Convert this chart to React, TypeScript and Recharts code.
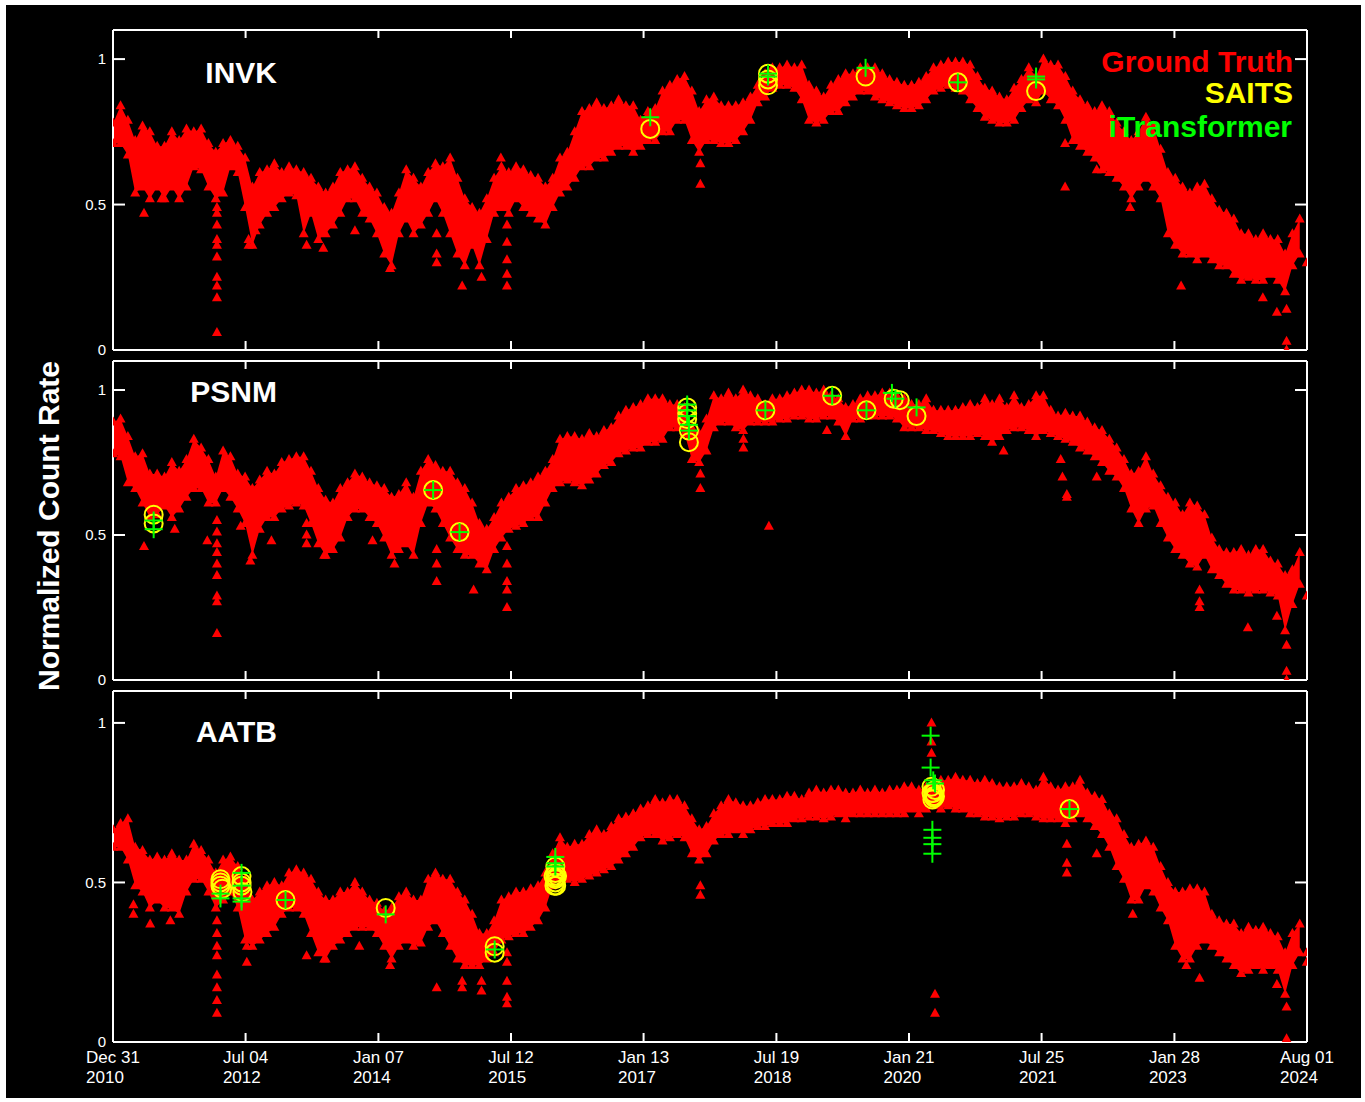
import React from 'react';
import { ComposedChart, Area, Scatter, XAxis, YAxis } from 'recharts';

// x ticks (decimal years) and their two-line labels
const tickYears = [2010.9973, 2012.5058, 2014.0171, 2015.5257, 2017.0342, 2018.5455, 2020.0541, 2021.5626, 2023.0739, 2024.5825];
const tickDates = ['Dec 31', 'Jul 04', 'Jan 07', 'Jul 12', 'Jan 13', 'Jul 19', 'Jan 21', 'Jul 25', 'Jan 28', 'Aug 01'];
const tickYearText = ['2010', '2012', '2014', '2015', '2017', '2018', '2020', '2021', '2023', '2024'];
const yTicks = [0, 0.5, 1];

// monthly sample grid, Jan 2011 .. Jul 2024
const sampleYears = Array.from({ length: 163 }, (_, i) => 2011 + i / 12);

// INVK: upper / lower edge of the ground truth band (one row per year)
const invkHigh = [
  0.78, 0.84, 0.79, 0.72, 0.77, 0.75, 0.70, 0.70, 0.75, 0.72, 0.76, 0.75,
  0.76, 0.71, 0.68, 0.71, 0.72, 0.70, 0.66, 0.56, 0.61, 0.62, 0.64, 0.61,
  0.63, 0.62, 0.61, 0.59, 0.56, 0.54, 0.56, 0.61, 0.62, 0.63, 0.59, 0.56,
  0.54, 0.49, 0.47, 0.54, 0.62, 0.59, 0.56, 0.61, 0.64, 0.63, 0.66, 0.59,
  0.52, 0.49, 0.47, 0.52, 0.59, 0.63, 0.61, 0.63, 0.62, 0.60, 0.59, 0.56,
  0.59, 0.66, 0.68, 0.75, 0.82, 0.83, 0.85, 0.83, 0.84, 0.86, 0.84, 0.84,
  0.79, 0.82, 0.83, 0.89, 0.91, 0.93, 0.94, 0.89, 0.82, 0.86, 0.87, 0.84,
  0.84, 0.84, 0.85, 0.87, 0.91, 0.95, 0.97, 0.97, 0.98, 0.97, 0.98, 0.91,
  0.89, 0.87, 0.91, 0.93, 0.95, 0.95, 0.97, 0.97, 0.97, 0.95, 0.93, 0.92,
  0.91, 0.91, 0.92, 0.94, 0.97, 0.98, 0.99, 0.99, 0.99, 0.98, 0.94, 0.90,
  0.89, 0.87, 0.86, 0.90, 0.93, 0.97, 0.94, 1.00, 0.98, 0.98, 0.94, 0.89,
  0.86, 0.84, 0.82, 0.84, 0.82, 0.78, 0.75, 0.72, 0.75, 0.80, 0.77, 0.69,
  0.61, 0.59, 0.56, 0.54, 0.56, 0.57, 0.52, 0.48, 0.47, 0.45, 0.40, 0.40,
  0.38, 0.40, 0.38, 0.38, 0.33, 0.40, 0.45,
];
const invkLow = [
  0.71, 0.71, 0.67, 0.54, 0.56, 0.52, 0.56, 0.52, 0.56, 0.52, 0.56, 0.63,
  0.62, 0.56, 0.52, 0.54, 0.63, 0.61, 0.49, 0.36, 0.43, 0.47, 0.49, 0.52,
  0.54, 0.53, 0.40, 0.47, 0.38, 0.40, 0.43, 0.47, 0.52, 0.52, 0.47, 0.45,
  0.40, 0.33, 0.29, 0.40, 0.45, 0.40, 0.43, 0.47, 0.52, 0.47, 0.40, 0.33,
  0.29, 0.36, 0.29, 0.38, 0.47, 0.49, 0.47, 0.52, 0.49, 0.47, 0.45, 0.43,
  0.49, 0.54, 0.56, 0.59, 0.63, 0.63, 0.66, 0.66, 0.68, 0.70, 0.70, 0.68,
  0.70, 0.72, 0.72, 0.75, 0.75, 0.79, 0.79, 0.72, 0.68, 0.72, 0.72, 0.71,
  0.71, 0.72, 0.75, 0.79, 0.85, 0.87, 0.90, 0.91, 0.91, 0.90, 0.86, 0.79,
  0.78, 0.79, 0.82, 0.82, 0.85, 0.87, 0.89, 0.89, 0.87, 0.86, 0.85, 0.84,
  0.83, 0.83, 0.84, 0.86, 0.89, 0.90, 0.91, 0.90, 0.89, 0.86, 0.83, 0.80,
  0.79, 0.78, 0.78, 0.79, 0.83, 0.86, 0.85, 0.89, 0.86, 0.84, 0.79, 0.72,
  0.70, 0.68, 0.66, 0.62, 0.61, 0.59, 0.56, 0.52, 0.56, 0.59, 0.56, 0.52,
  0.40, 0.36, 0.33, 0.33, 0.31, 0.33, 0.31, 0.29, 0.29, 0.26, 0.24, 0.25,
  0.24, 0.24, 0.26, 0.24, 0.20, 0.29, 0.33,
];
const invkSpikes = [
  [2011.35, 0.47], [2011.55, 0.52], [2012.18, 0.49], [2012.18, 0.47], [2012.18, 0.43], [2012.18, 0.38],
  [2012.18, 0.36], [2012.18, 0.32], [2012.18, 0.25], [2012.18, 0.22], [2012.18, 0.18], [2012.18, 0.06],
  [2012.54, 0.38], [2012.54, 0.36], [2012.62, 0.41], [2013.2, 0.36], [2013.39, 0.35], [2013.75, 0.41],
  [2014.15, 0.28], [2014.68, 0.4], [2014.68, 0.33], [2014.68, 0.3], [2014.97, 0.22], [2015.19, 0.25],
  [2015.41, 0.66], [2015.48, 0.43], [2015.48, 0.37], [2015.48, 0.31], [2015.48, 0.26], [2015.48, 0.22],
  [2017.68, 0.64], [2017.68, 0.57], [2021.83, 0.71], [2021.83, 0.56], [2022.19, 0.62], [2022.57, 0.49],
  [2023.15, 0.22], [2024.08, 0.18], [2024.24, 0.13], [2024.35, 0.14], [2024.35, 0.03], [2024.35, 0.0],
  [2024.58, 0.3],
];
const invkSaits = [[2017.11, 0.76], [2018.45, 0.95], [2018.45, 0.93], [2018.45, 0.91], [2019.56, 0.94], [2020.61, 0.92], [2021.5, 0.89]];
const invkITrans = [[2017.11, 0.8], [2018.45, 0.94], [2018.45, 0.95], [2019.56, 0.97], [2020.61, 0.92], [2021.5, 0.93], [2021.5, 0.94]];

// PSNM
const psnmHigh = [
  0.89, 0.90, 0.84, 0.77, 0.78, 0.71, 0.71, 0.70, 0.75, 0.72, 0.76, 0.83,
  0.80, 0.76, 0.70, 0.79, 0.77, 0.71, 0.70, 0.66, 0.69, 0.72, 0.71, 0.75,
  0.76, 0.77, 0.77, 0.72, 0.66, 0.62, 0.61, 0.66, 0.68, 0.71, 0.70, 0.68,
  0.67, 0.66, 0.63, 0.64, 0.68, 0.63, 0.72, 0.76, 0.74, 0.72, 0.72, 0.68,
  0.66, 0.61, 0.54, 0.52, 0.56, 0.61, 0.63, 0.66, 0.67, 0.68, 0.70, 0.72,
  0.76, 0.83, 0.84, 0.84, 0.83, 0.85, 0.84, 0.86, 0.87, 0.91, 0.93, 0.94,
  0.95, 0.97, 0.97, 0.97, 0.95, 0.95, 0.94, 0.87, 0.85, 0.90, 0.98, 0.97,
  0.99, 0.97, 1.00, 0.98, 0.97, 0.95, 0.97, 0.97, 0.98, 0.99, 1.00, 1.00,
  0.99, 1.00, 0.98, 0.97, 0.94, 0.95, 0.97, 0.98, 0.98, 0.99, 0.99, 0.98,
  0.97, 0.95, 0.95, 0.97, 0.93, 0.93, 0.93, 0.93, 0.94, 0.95, 0.94, 0.97,
  0.95, 0.97, 0.94, 0.98, 0.94, 0.95, 0.98, 0.98, 0.93, 0.91, 0.92, 0.91,
  0.91, 0.89, 0.87, 0.86, 0.83, 0.80, 0.76, 0.71, 0.72, 0.77, 0.71, 0.67,
  0.63, 0.61, 0.57, 0.61, 0.60, 0.57, 0.49, 0.45, 0.44, 0.44, 0.45, 0.43,
  0.45, 0.45, 0.41, 0.40, 0.36, 0.38, 0.44,
];
const psnmLow = [
  0.78, 0.77, 0.68, 0.66, 0.61, 0.56, 0.57, 0.60, 0.56, 0.59, 0.63, 0.66,
  0.66, 0.61, 0.61, 0.66, 0.63, 0.59, 0.54, 0.43, 0.52, 0.56, 0.56, 0.59,
  0.60, 0.61, 0.60, 0.54, 0.47, 0.43, 0.45, 0.49, 0.56, 0.59, 0.59, 0.56,
  0.54, 0.49, 0.43, 0.45, 0.47, 0.43, 0.54, 0.61, 0.59, 0.54, 0.49, 0.45,
  0.43, 0.43, 0.40, 0.38, 0.45, 0.49, 0.52, 0.53, 0.54, 0.56, 0.56, 0.61,
  0.66, 0.68, 0.69, 0.68, 0.67, 0.69, 0.71, 0.74, 0.75, 0.78, 0.79, 0.80,
  0.80, 0.82, 0.82, 0.83, 0.87, 0.87, 0.85, 0.76, 0.75, 0.79, 0.87, 0.89,
  0.89, 0.87, 0.86, 0.89, 0.89, 0.89, 0.89, 0.90, 0.90, 0.91, 0.91, 0.90,
  0.90, 0.91, 0.91, 0.89, 0.84, 0.90, 0.90, 0.91, 0.91, 0.91, 0.91, 0.90,
  0.87, 0.87, 0.87, 0.86, 0.86, 0.85, 0.84, 0.84, 0.84, 0.84, 0.85, 0.84,
  0.82, 0.84, 0.86, 0.87, 0.87, 0.86, 0.84, 0.86, 0.85, 0.84, 0.83, 0.82,
  0.80, 0.79, 0.77, 0.75, 0.72, 0.70, 0.66, 0.59, 0.54, 0.59, 0.60, 0.54,
  0.49, 0.45, 0.43, 0.40, 0.39, 0.43, 0.38, 0.36, 0.33, 0.31, 0.31, 0.30,
  0.31, 0.31, 0.30, 0.29, 0.17, 0.26, 0.33,
];
const psnmSpikes = [
  [2011.35, 0.46], [2011.7, 0.52], [2012.07, 0.48], [2012.18, 0.55], [2012.18, 0.51], [2012.18, 0.47],
  [2012.18, 0.44], [2012.18, 0.4], [2012.18, 0.36], [2012.18, 0.29], [2012.18, 0.27], [2012.18, 0.16],
  [2012.45, 0.53], [2012.56, 0.41], [2012.8, 0.48], [2013.2, 0.54], [2013.2, 0.5], [2013.2, 0.47],
  [2013.4, 0.43], [2013.95, 0.48], [2014.2, 0.4], [2014.68, 0.45], [2014.68, 0.4], [2014.68, 0.34],
  [2015.1, 0.31], [2015.48, 0.46], [2015.48, 0.4], [2015.48, 0.34], [2015.48, 0.31], [2015.48, 0.25],
  [2017.68, 0.71], [2017.68, 0.66], [2018.17, 0.83], [2018.17, 0.8], [2018.46, 0.53], [2019.12, 0.86],
  [2021.13, 0.79], [2021.78, 0.76], [2021.8, 0.7], [2021.85, 0.64], [2021.85, 0.63], [2022.19, 0.7],
  [2023.36, 0.31], [2023.36, 0.27], [2023.36, 0.25], [2023.91, 0.18], [2024.24, 0.22], [2024.35, 0.12],
  [2024.35, 0.03], [2024.35, 0.0], [2024.58, 0.29],
];
const psnmSaits = [
  [2011.46, 0.57], [2011.46, 0.54], [2014.64, 0.655], [2014.94, 0.51], [2017.53, 0.94], [2017.53, 0.92],
  [2017.53, 0.9], [2017.55, 0.86], [2017.55, 0.82], [2018.42, 0.93], [2019.18, 0.98], [2019.57, 0.93],
  [2019.88, 0.97], [2019.95, 0.965], [2020.14, 0.91],
];
const psnmITrans = [
  [2011.46, 0.55], [2011.46, 0.52], [2014.64, 0.655], [2014.94, 0.51], [2017.53, 0.95], [2017.53, 0.93],
  [2017.53, 0.91], [2017.55, 0.88], [2017.55, 0.86], [2018.42, 0.93], [2019.18, 0.98], [2019.57, 0.93],
  [2019.86, 0.99], [2019.9, 0.97], [2020.14, 0.94],
];

// AATB
const aatbHigh = [
  0.665, 0.685, 0.70, 0.61, 0.60, 0.57, 0.58, 0.57, 0.59, 0.57, 0.57, 0.62,
  0.60, 0.57, 0.53, 0.57, 0.58, 0.55, 0.51, 0.445, 0.47, 0.49, 0.50, 0.49,
  0.53, 0.54, 0.53, 0.51, 0.47, 0.445, 0.445, 0.47, 0.47, 0.50, 0.47, 0.445,
  0.435, 0.41, 0.42, 0.455, 0.47, 0.445, 0.445, 0.51, 0.53, 0.51, 0.51, 0.47,
  0.445, 0.40, 0.34, 0.34, 0.38, 0.445, 0.455, 0.47, 0.47, 0.48, 0.49, 0.53,
  0.59, 0.64, 0.61, 0.62, 0.62, 0.65, 0.665, 0.65, 0.675, 0.70, 0.705, 0.715,
  0.73, 0.74, 0.76, 0.75, 0.76, 0.76, 0.74, 0.70, 0.665, 0.675, 0.715, 0.74,
  0.76, 0.75, 0.74, 0.74, 0.75, 0.76, 0.76, 0.76, 0.77, 0.77, 0.76, 0.78,
  0.79, 0.78, 0.79, 0.79, 0.78, 0.78, 0.79, 0.78, 0.79, 0.78, 0.79, 0.79,
  0.80, 0.80, 0.79, 0.80, 0.81, 0.82, 0.82, 0.83, 0.82, 0.82, 0.81, 0.82,
  0.81, 0.80, 0.80, 0.80, 0.81, 0.80, 0.79, 0.83, 0.80, 0.79, 0.80, 0.80,
  0.82, 0.78, 0.77, 0.76, 0.715, 0.70, 0.65, 0.61, 0.62, 0.63, 0.61, 0.55,
  0.50, 0.47, 0.47, 0.48, 0.48, 0.47, 0.40, 0.38, 0.37, 0.37, 0.34, 0.36,
  0.35, 0.36, 0.34, 0.33, 0.28, 0.34, 0.37,
];
const aatbLow = [
  0.61, 0.61, 0.57, 0.49, 0.47, 0.42, 0.445, 0.42, 0.42, 0.40, 0.47, 0.51,
  0.51, 0.47, 0.42, 0.445, 0.47, 0.42, 0.32, 0.30, 0.32, 0.34, 0.36, 0.40,
  0.42, 0.42, 0.40, 0.34, 0.28, 0.26, 0.30, 0.32, 0.34, 0.36, 0.36, 0.36,
  0.34, 0.30, 0.26, 0.30, 0.32, 0.30, 0.31, 0.36, 0.38, 0.34, 0.30, 0.26,
  0.24, 0.24, 0.24, 0.26, 0.28, 0.32, 0.33, 0.34, 0.34, 0.36, 0.38, 0.42,
  0.49, 0.51, 0.51, 0.50, 0.51, 0.52, 0.53, 0.54, 0.55, 0.57, 0.59, 0.61,
  0.64, 0.65, 0.65, 0.63, 0.64, 0.65, 0.64, 0.59, 0.57, 0.59, 0.63, 0.65,
  0.65, 0.665, 0.65, 0.665, 0.675, 0.675, 0.685, 0.685, 0.685, 0.70, 0.70, 0.705,
  0.705, 0.70, 0.705, 0.715, 0.70, 0.715, 0.715, 0.715, 0.715, 0.715, 0.715, 0.715,
  0.715, 0.73, 0.715, 0.73, 0.74, 0.73, 0.74, 0.73, 0.73, 0.715, 0.715, 0.705,
  0.705, 0.70, 0.705, 0.705, 0.715, 0.715, 0.705, 0.70, 0.70, 0.70, 0.685, 0.70,
  0.715, 0.70, 0.675, 0.65, 0.61, 0.55, 0.51, 0.445, 0.445, 0.49, 0.47, 0.42,
  0.38, 0.30, 0.26, 0.26, 0.30, 0.32, 0.30, 0.28, 0.26, 0.24, 0.215, 0.225,
  0.24, 0.225, 0.24, 0.225, 0.15, 0.24, 0.28,
];
const aatbSpikes = [
  [2011.23, 0.43], [2011.23, 0.4], [2011.42, 0.37], [2011.65, 0.38], [2012.18, 0.38], [2012.18, 0.34],
  [2012.18, 0.3], [2012.18, 0.27], [2012.18, 0.21], [2012.18, 0.17], [2012.18, 0.13], [2012.18, 0.09],
  [2012.52, 0.3], [2012.52, 0.25], [2013.2, 0.27], [2013.4, 0.26], [2013.8, 0.3], [2014.15, 0.24],
  [2014.68, 0.17], [2014.97, 0.19], [2014.97, 0.17], [2015.19, 0.19], [2015.19, 0.16], [2015.48, 0.28],
  [2015.48, 0.25], [2015.48, 0.19], [2015.48, 0.14], [2015.48, 0.12], [2017.68, 0.49], [2017.68, 0.46],
  [2020.31, 1.0], [2020.31, 0.94], [2020.31, 0.905], [2020.35, 0.15], [2020.35, 0.09], [2021.85, 0.62],
  [2021.85, 0.56], [2021.85, 0.53], [2022.19, 0.59], [2022.6, 0.4], [2023.21, 0.24], [2023.36, 0.2],
  [2024.24, 0.18], [2024.35, 0.11], [2024.35, 0.01], [2024.58, 0.25], [2024.58, 0.28],
];
const aatbSaits = [
  [2012.22, 0.51], [2012.22, 0.5], [2012.22, 0.49], [2012.24, 0.48], [2012.46, 0.52], [2012.46, 0.5],
  [2012.46, 0.49], [2012.47, 0.47], [2012.96, 0.445], [2014.1, 0.42], [2015.34, 0.3], [2015.34, 0.28],
  [2016.03, 0.55], [2016.03, 0.53], [2016.03, 0.51], [2016.03, 0.5], [2016.01, 0.52], [2016.05, 0.52],
  [2016.02, 0.49], [2016.04, 0.49], [2016.03, 0.515], [2020.31, 0.8], [2020.33, 0.78], [2020.33, 0.77],
  [2020.35, 0.79], [2020.32, 0.76], [2020.34, 0.765], [2020.31, 0.78], [2020.35, 0.77], [2021.88, 0.73],
];
const aatbITrans = [
  [2012.22, 0.465], [2012.22, 0.45], [2012.46, 0.53], [2012.46, 0.49], [2012.46, 0.45], [2012.46, 0.44],
  [2012.96, 0.445], [2014.1, 0.4], [2015.34, 0.29], [2016.03, 0.58], [2016.03, 0.56], [2016.03, 0.55],
  [2020.3, 0.96], [2020.3, 0.86], [2020.33, 0.82], [2020.35, 0.81], [2020.32, 0.665], [2020.32, 0.64],
  [2020.32, 0.62], [2020.32, 0.59], [2021.88, 0.73],
];

const FONT = "'Liberation Sans', Arial, Helvetica, sans-serif";
const RED = '#ff0000';
const YELLOW = '#ffff00';
const GREEN = '#00ff00';
const X_DOMAIN: [number, number] = [2010.9973, 2024.5825];

let measureCtx: CanvasRenderingContext2D | null = null;
const textWidth = (s: string, font: string) => {
  if (!measureCtx) measureCtx = document.createElement('canvas').getContext('2d');
  if (!measureCtx) return s.length * 9;
  measureCtx.font = font;
  return measureCtx.measureText(s).width;
};

const toPts = (pairs: number[][]) => pairs.map(([t, v]) => ({ t, v }));

const Tri = (p: any) => {
  const { cx, cy } = p;
  if (cx == null || cy == null) return null;
  return <polygon points={`${cx},${cy - 5.5} ${cx - 5},${cy + 3.5} ${cx + 5},${cy + 3.5}`} fill={RED} />;
};
const Ring = (p: any) => {
  const { cx, cy } = p;
  if (cx == null || cy == null) return null;
  return <circle cx={cx} cy={cy} r={9} fill="none" stroke={YELLOW} strokeWidth={2} />;
};
const Cross = (p: any) => {
  const { cx, cy } = p;
  if (cx == null || cy == null) return null;
  return (
    <g stroke={GREEN} strokeWidth={2}>
      <line x1={cx - 9} y1={cy} x2={cx + 9} y2={cy} />
      <line x1={cx} y1={cy - 9} x2={cx} y2={cy + 9} />
    </g>
  );
};

type PanelProps = {
  plotTop: number;
  plotH: number;
  bottomPad: number;
  labels: boolean;
  high: number[];
  low: number[];
  spikes: number[][];
  saits: number[][];
  itrans: number[][];
};

const Panel = ({ plotTop, plotH, bottomPad, labels, high, low, spikes, saits, itrans }: PanelProps) => {
  const rows = sampleYears.map((t, i) => ({ t, band: [low[i], high[i]] }));
  const tris = [
    ...sampleYears.map((t, i) => ({ t, v: high[i] })),
    ...sampleYears.map((t, i) => ({ t, v: low[i] })),
    ...toPts(spikes),
  ];

  const bottomTick = (p: any) => {
    const { x, y, index } = p;
    const w = textWidth(tickDates[index], `17px ${FONT}`);
    return (
      <g>
        <line x1={x} y1={y} x2={x} y2={y - 9} stroke="#fff" strokeWidth={2} />
        {labels && (
          <text x={x - w / 2} y={y + 21} fill="#fff" fontSize={17} fontFamily={FONT}>
            <tspan x={x - w / 2}>{tickDates[index]}</tspan>
            <tspan x={x - w / 2} dy={20}>{tickYearText[index]}</tspan>
          </text>
        )}
      </g>
    );
  };
  const topTick = (p: any) => <line x1={p.x} y1={p.y} x2={p.x} y2={p.y + 8} stroke="#fff" strokeWidth={2} />;
  const leftTick = (p: any) => (
    <g>
      <line x1={p.x} y1={p.y} x2={p.x + 12} y2={p.y} stroke="#fff" strokeWidth={2} />
      <text x={p.x - 7} y={p.y} dy="0.35em" textAnchor="end" fill="#fff" fontSize={15} fontFamily={FONT}>
        {p.payload.value}
      </text>
    </g>
  );
  const rightTick = (p: any) => <line x1={p.x - 12} y1={p.y} x2={p.x} y2={p.y} stroke="#fff" strokeWidth={2} />;

  return (
    <div style={{ position: 'absolute', left: 0, top: plotTop - 10 }}>
      <ComposedChart width={1365} height={10 + plotH + bottomPad} data={rows} margin={{ top: 0, right: 0, bottom: 0, left: 0 }}>
        <XAxis xAxisId="b" dataKey="t" type="number" domain={X_DOMAIN} allowDataOverflow ticks={tickYears} interval={0}
          height={bottomPad} tickSize={0} tickMargin={0} tickLine={false} axisLine={{ stroke: '#fff', strokeWidth: 2 }} tick={bottomTick} />
        <XAxis xAxisId="t" orientation="top" dataKey="t" type="number" domain={X_DOMAIN} allowDataOverflow ticks={tickYears} interval={0}
          height={10} tickSize={0} tickMargin={0} tickLine={false} axisLine={{ stroke: '#fff', strokeWidth: 2 }} tick={topTick} />
        <YAxis yAxisId="l" type="number" domain={[0, 1.1]} allowDataOverflow ticks={yTicks} interval={0} width={113}
          tickSize={0} tickMargin={0} tickLine={false} axisLine={{ stroke: '#fff', strokeWidth: 2 }} tick={leftTick} />
        <YAxis yAxisId="r" orientation="right" type="number" domain={[0, 1.1]} allowDataOverflow ticks={yTicks} interval={0} width={58}
          tickSize={0} tickMargin={0} tickLine={false} axisLine={{ stroke: '#fff', strokeWidth: 2 }} tick={rightTick} />
        <Area xAxisId="b" yAxisId="l" dataKey="band" type="linear" stroke="none" fill={RED} fillOpacity={1}
          dot={false} activeDot={false} isAnimationActive={false} />
        <Scatter xAxisId="b" yAxisId="l" data={tris} dataKey="v" shape={Tri} isAnimationActive={false} />
        <Scatter xAxisId="b" yAxisId="l" data={toPts(saits)} dataKey="v" shape={Ring} isAnimationActive={false} />
        <Scatter xAxisId="b" yAxisId="l" data={toPts(itrans)} dataKey="v" shape={Cross} isAnimationActive={false} />
      </ComposedChart>
    </div>
  );
};

const App = () => {
  return (
    <div style={{ position: 'absolute', left: 0, top: 0, width: 1365, height: 1102, background: '#fff', overflow: 'hidden' }}>
      <div style={{ position: 'absolute', left: 6, top: 5, width: 1355, height: 1093, background: '#000' }} />
      <Panel plotTop={30} plotH={320} bottomPad={10} labels={false}
        high={invkHigh} low={invkLow} spikes={invkSpikes} saits={invkSaits} itrans={invkITrans} />
      <Panel plotTop={361} plotH={319} bottomPad={10} labels={false}
        high={psnmHigh} low={psnmLow} spikes={psnmSpikes} saits={psnmSaits} itrans={psnmITrans} />
      <Panel plotTop={691} plotH={351} bottomPad={60} labels
        high={aatbHigh} low={aatbLow} spikes={aatbSpikes} saits={aatbSaits} itrans={aatbITrans} />
      <svg width={1365} height={1102} style={{ position: 'absolute', left: 0, top: 0, pointerEvents: 'none' }}>
        <g fontFamily={FONT} fontWeight="bold" fontSize={30}>
          <text x={277} y={83} textAnchor="end" fill="#fff">INVK</text>
          <text x={277} y={402} textAnchor="end" fill="#fff">PSNM</text>
          <text x={277} y={742} textAnchor="end" fill="#fff">AATB</text>
          <text x={1293} y={72} textAnchor="end" fill={RED}>Ground Truth</text>
          <text x={1293} y={103} textAnchor="end" fill={YELLOW}>SAITS</text>
          <text x={1292} y={137} textAnchor="end" fill={GREEN}>iTransformer</text>
          <text transform="translate(59,526) rotate(-90)" textAnchor="middle" fill="#fff">Normalized Count Rate</text>
        </g>
      </svg>
    </div>
  );
};

export default App;
